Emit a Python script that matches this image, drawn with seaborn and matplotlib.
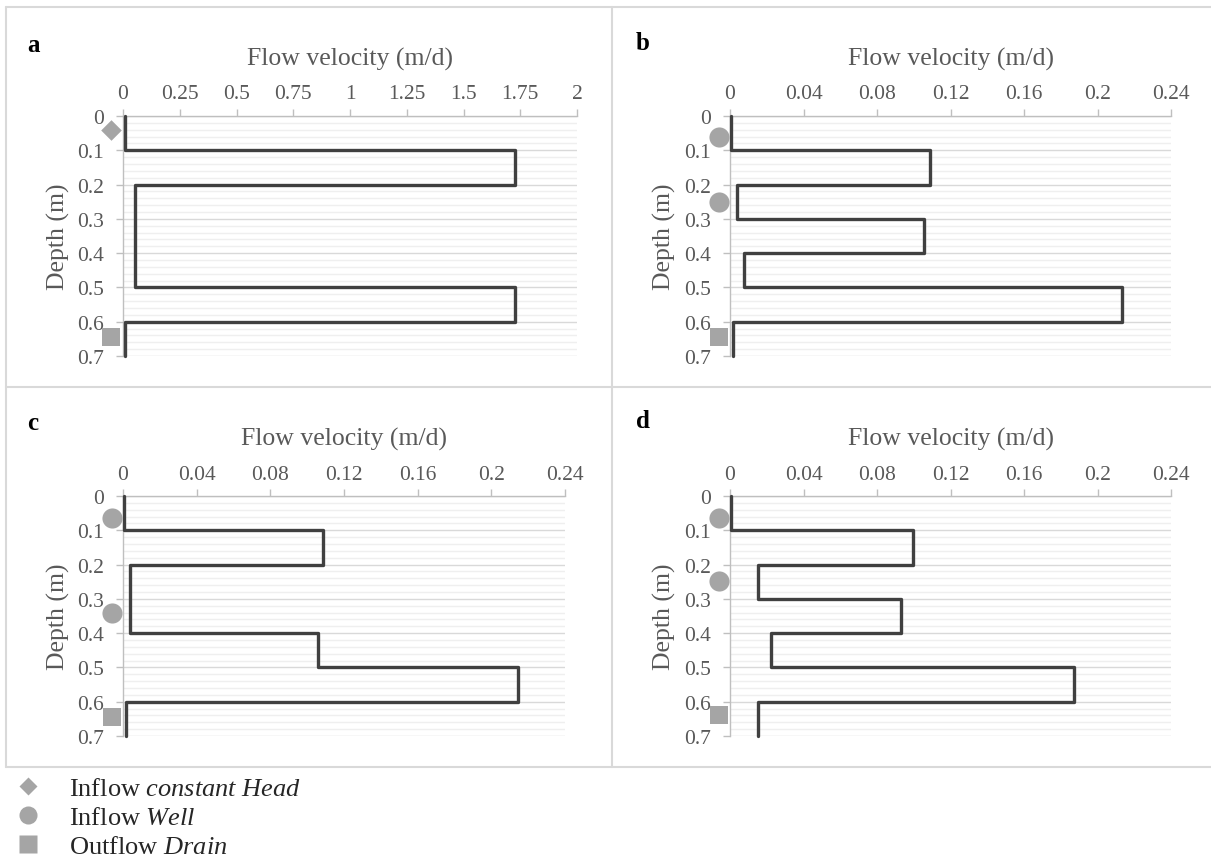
import numpy as np
import pandas as pd
import matplotlib
matplotlib.use("Agg")
import matplotlib.pyplot as plt
from matplotlib.lines import Line2D
import seaborn as sns

# ---------------- data ----------------
depth_edges = [0.0, 0.1, 0.2, 0.3, 0.4, 0.5, 0.6, 0.7]
vel_a = [0.008, 1.725, 0.052, 0.052, 0.052, 1.725, 0.008]
vel_b = [0.0005, 0.109, 0.004, 0.1055, 0.0075, 0.2135, 0.0017]
vel_c = [0.0003, 0.1085, 0.0037, 0.0037, 0.106, 0.2145, 0.0017]
vel_d = [0.0005, 0.0995, 0.015, 0.093, 0.0225, 0.187, 0.015]

xticks_a = [0, 0.25, 0.5, 0.75, 1, 1.25, 1.5, 1.75, 2]
xticklabels_a = ["0", "0.25", "0.5", "0.75", "1", "1.25", "1.5", "1.75", "2"]
xticks_bcd = [0, 0.04, 0.08, 0.12, 0.16, 0.2, 0.24]
xticklabels_bcd = ["0", "0.04", "0.08", "0.12", "0.16", "0.2", "0.24"]
yticks = [0, 0.1, 0.2, 0.3, 0.4, 0.5, 0.6, 0.7]
yticklabels = ["0", "0.1", "0.2", "0.3", "0.4", "0.5", "0.6", "0.7"]

head_a = [0.04]
wells_a = []
wells_b = [0.06, 0.25]
wells_c = [0.065, 0.34]
wells_d = [0.063, 0.248]
drain_a = [0.645]
drain_b = [0.645]
drain_c = [0.645]
drain_d = [0.64]
marker_x_a = -0.053
marker_x_bcd = -0.006

panel_letters = ["a", "b", "c", "d"]
x_title = "Flow velocity (m/d)"
y_title = "Depth (m)"
legend_labels = ["Inflow $\\mathit{constant\\ Head}$",
                 "Inflow $\\mathit{Well}$",
                 "Outflow $\\mathit{Drain}$"]

# ---------------- style ----------------
sns.set_theme(style="white")
plt.rcParams["font.family"] = ["Liberation Serif", "DejaVu Serif"]
plt.rcParams["mathtext.fontset"] = "custom"
plt.rcParams["mathtext.rm"] = "Liberation Serif"
plt.rcParams["mathtext.it"] = "Liberation Serif:italic"

W, H = 1211, 862
fig = plt.figure(figsize=(W / 100, H / 100), dpi=100)
fig.patch.set_facecolor("white")

TXT = "#595959"
AX = "#bfbfbf"
LINE = "#404040"
MK = "#a5a5a5"


def px_axes(x0, y0, x1, y1):
    return fig.add_axes([x0 / W, 1 - y1 / H, (x1 - x0) / W, (y1 - y0) / H])


def draw_panel(ax, vel, xmax, xt, xtl, heads, wells, drains, mx):
    edges = np.asarray(depth_edges)
    xs = np.repeat(vel, 2)
    ys = np.column_stack([edges[:-1], edges[1:]]).ravel()
    df = pd.DataFrame({"v": xs, "d": ys})
    sns.lineplot(data=df, x="v", y="d", sort=False, estimator=None,
                 color=LINE, linewidth=2.4, ax=ax, clip_on=False, zorder=5)
    if heads:
        sns.scatterplot(x=[mx] * len(heads), y=heads, marker="D", s=110,
                        color=MK, linewidth=0, ax=ax, clip_on=False, zorder=6)
    if wells:
        sns.scatterplot(x=[mx] * len(wells), y=wells, marker="o", s=210,
                        color=MK, linewidth=0, ax=ax, clip_on=False, zorder=6)
    if drains:
        sns.scatterplot(x=[mx] * len(drains), y=drains, marker="s", s=170,
                        color=MK, linewidth=0, ax=ax, clip_on=False, zorder=6)

    ax.set_xlim(0, xmax)
    ax.set_ylim(0.7, 0)
    ax.xaxis.tick_top()
    ax.xaxis.set_label_position("top")
    ax.set_xticks(xt)
    ax.set_xticklabels(xtl)
    ax.set_yticks(yticks)
    ax.set_yticklabels(yticklabels)
    ax.set_yticks(np.arange(0, 0.7001, 0.02), minor=True)
    ax.grid(False)
    ax.yaxis.grid(True, which="major", color="#d9d9d9", lw=1.0, zorder=0)
    ax.yaxis.grid(True, which="minor", color="#efefef", lw=1.0, zorder=0)
    ax.set_axisbelow(True)
    ax.tick_params(axis="x", which="major", top=True, bottom=False,
                   labeltop=True, labelbottom=False, direction="out",
                   length=5, width=1, color=AX, labelsize=15.5,
                   labelcolor=TXT, pad=4)
    ax.tick_params(axis="y", which="major", left=True, direction="out",
                   length=5, width=1, color=AX, labelsize=15.5,
                   labelcolor=TXT, pad=9)
    ax.tick_params(axis="both", which="minor", length=0)
    for s in ["bottom", "right"]:
        ax.spines[s].set_visible(False)
    for s in ["top", "left"]:
        ax.spines[s].set_visible(True)
        ax.spines[s].set_color(AX)
        ax.spines[s].set_linewidth(1)
    ax.set_xlabel(x_title, fontsize=18.5, color=TXT, va="center")
    ax.set_ylabel(y_title, fontsize=18.5, color=TXT, va="center")
    ax.set_facecolor("white")


# axes geometry (pixels)
geom = [(123, 117, 577, 357), (730, 117, 1171, 357),
        (123, 497, 565, 737), (730, 497, 1171, 737)]
axes = [px_axes(*g) for g in geom]
ax_a, ax_b, ax_c, ax_d = axes

draw_panel(ax_a, vel_a, 2, xticks_a, xticklabels_a, head_a, wells_a, drain_a, marker_x_a)
draw_panel(ax_b, vel_b, 0.24, xticks_bcd, xticklabels_bcd, [], wells_b, drain_b, marker_x_bcd)
draw_panel(ax_c, vel_c, 0.24, xticks_bcd, xticklabels_bcd, [], wells_c, drain_c, marker_x_bcd)
draw_panel(ax_d, vel_d, 0.24, xticks_bcd, xticklabels_bcd, [], wells_d, drain_d, marker_x_bcd)

# axis-title positions (pixel centres)
ylabel_x = [58, 664, 58, 664]
for ax, (x0, y0, x1, y1), lx in zip(axes, geom, ylabel_x):
    w = x1 - x0
    h = y1 - y0
    ax.xaxis.set_label_coords(0.5, 1 + 58 / h)
    ax.yaxis.set_label_coords((lx - x0) / w, 0.5)

# panel frames
frame_kw = dict(color="#d9d9d9", lw=1.5, transform=fig.transFigure)
def fl(x0, y0, x1, y1):
    fig.add_artist(Line2D([x0 / W, x1 / W], [1 - y0 / H, 1 - y1 / H], **frame_kw))
fl(6, 8, W, 8)
fl(6, 388, W, 388)
fl(6, 768, W, 768)
fl(6, 8, 6, 768)
fl(612, 8, 612, 768)

# panel letters
for letter, (x, y) in zip(panel_letters, [(27, 52), (636, 50), (27, 430), (636, 428)]):
    fig.text(x / W, 1 - y / H, letter, fontsize=18, fontweight="bold",
             color="black", va="baseline", ha="left")

# legend
handles = [
    Line2D([], [], marker="D", ls="none", color=MK, mec="none", markersize=9.2),
    Line2D([], [], marker="o", ls="none", color=MK, mec="none", markersize=13),
    Line2D([], [], marker="s", ls="none", color=MK, mec="none", markersize=12.5),
]
fs = 19
fpx = fs * 100 / 72
fig.legend(handles, legend_labels, loc="upper left",
           bbox_to_anchor=((28 - fpx / 2) / W, 1 - 778 / H), frameon=False,
           fontsize=fs, handlelength=1.0, handletextpad=(69 - 28 - fpx / 2) / fpx,
           borderpad=0, borderaxespad=0, labelspacing=0.2)

fig.savefig("out.png", dpi=100, facecolor="white")
